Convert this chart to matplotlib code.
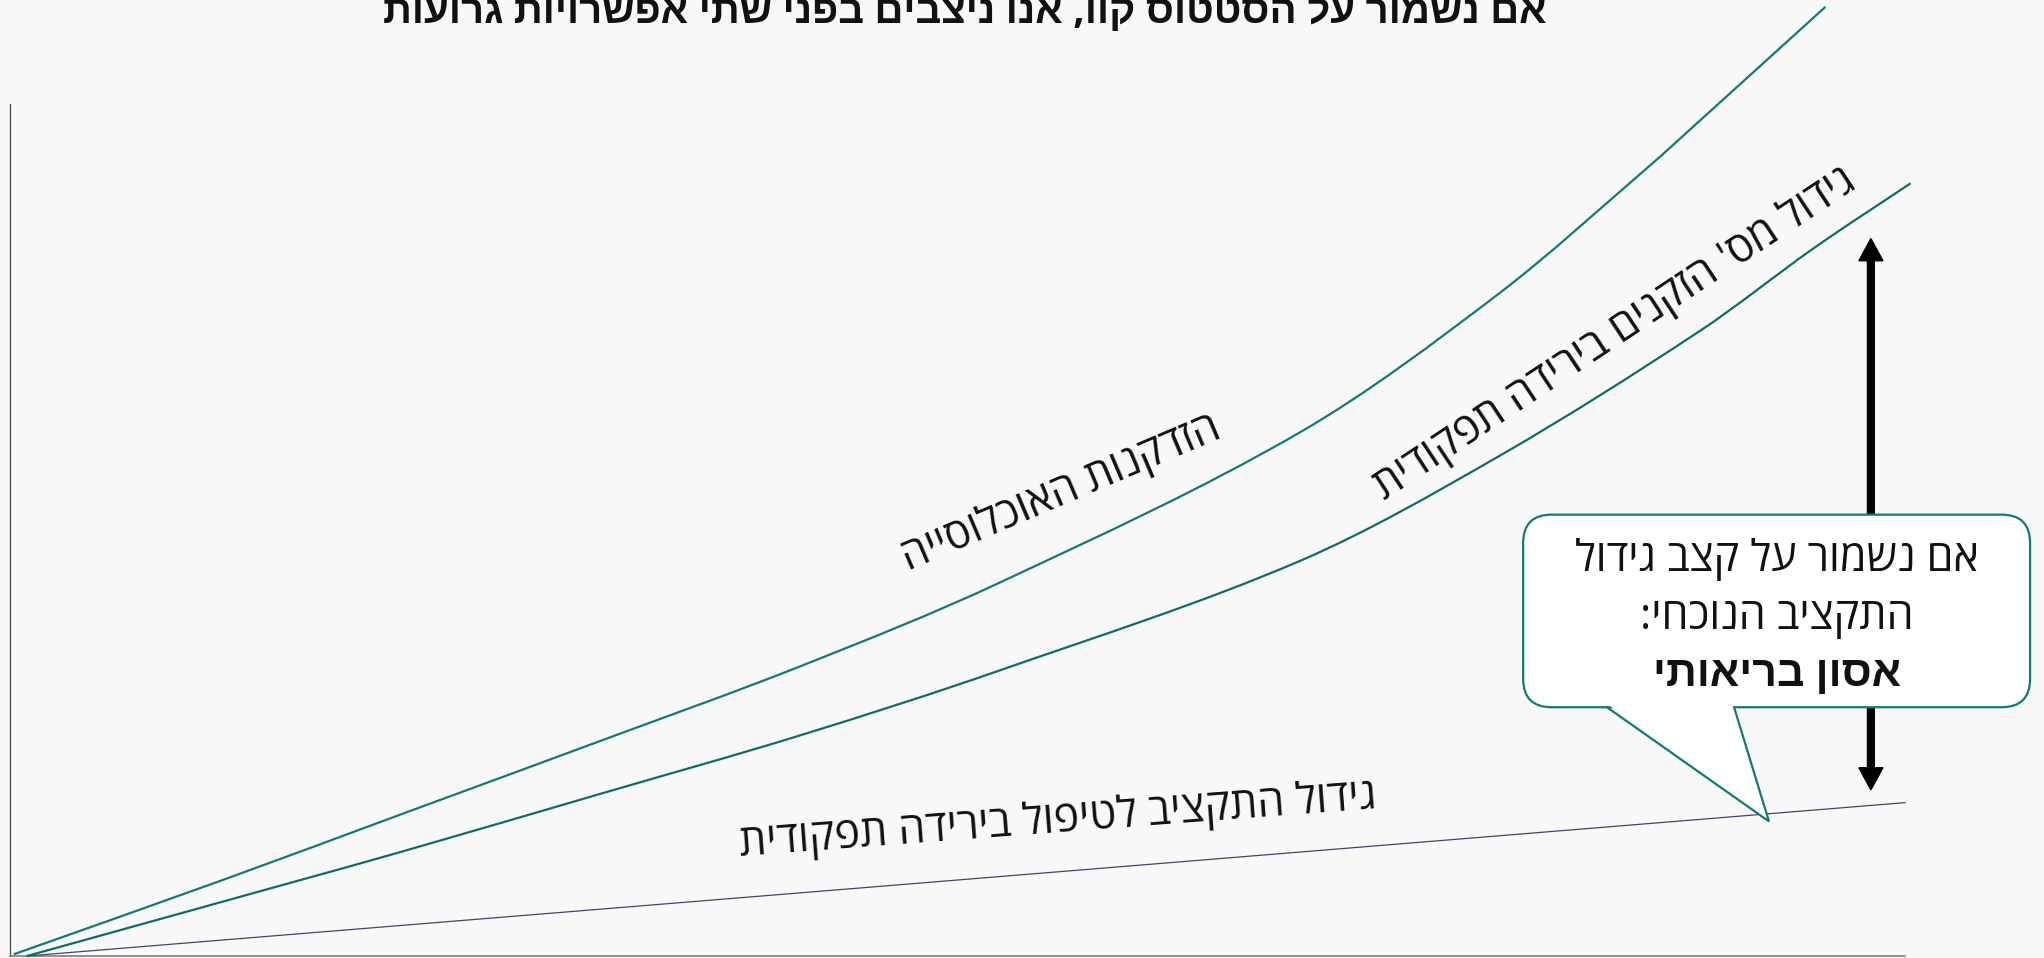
import matplotlib
matplotlib.use("Agg")
import matplotlib.pyplot as plt
from matplotlib.patches import FancyBboxPatch, Polygon, PathPatch
from matplotlib.path import Path

# ---- data (arbitrary index units) ----
aging_x = [0.2, 11.2, 20.6, 31.1, 41.7, 52.2, 68.1, 78.6, 86.5, 89.2, 95.8]
aging_y = [0.2, 8.9, 16.6, 25.2, 34.0, 43.8, 61.5, 77.8, 92.7, 98.1, 111.4]

decline_x = [0.9, 15.3, 20.6, 31.1, 41.7, 52.2, 68.1, 78.6, 89.2, 95.2, 100.3]
decline_y = [0.0, 8.9, 12.2, 19.0, 25.9, 33.5, 46.4, 58.7, 73.4, 83.1, 90.7]

budget_x = [0.9, 100.0]
budget_y = [0.0, 18.0]

title = "אם נשמור על הסטטוס קוו, אנו ניצבים בפני שתי אפשרויות גרועות"
label_aging = "הזדקנות האוכלוסייה"
label_decline = "גידול מס' הזקנים בירידה תפקודית"
label_budget = "גידול התקציב לטיפול בירידה תפקודית"
callout_lines = ["אם נשמור על קצב גידול", "התקציב הנוכחי:", "אסון בריאותי"]


def rtl(s):
    return s[::-1]


def smooth_path(xs, ys):
    """Smooth (cubic Hermite) rendering of a polyline through the points."""
    n = len(xs)
    m = []
    for i in range(n):
        a = max(i - 1, 0)
        b = min(i + 1, n - 1)
        m.append((ys[b] - ys[a]) / (xs[b] - xs[a]))
    verts = [(xs[0], ys[0])]
    codes = [Path.MOVETO]
    for i in range(n - 1):
        h = xs[i + 1] - xs[i]
        c1 = (xs[i] + h / 3, ys[i] + m[i] * h / 3)
        c2 = (xs[i + 1] - h / 3, ys[i + 1] - m[i + 1] * h / 3)
        verts += [c1, c2, (xs[i + 1], ys[i + 1])]
        codes += [Path.CURVE4] * 3
    return Path(verts, codes)


FONT = ["Open Sans", "Liberation Sans", "DejaVu Sans"]
plt.rcParams["font.family"] = FONT

BG = "#f8f8f8"
TEAL = "#127a76"
TEAL_D = "#0e6c69"
SLATE = "#3d4a66"
TXT = "#111111"

W, H = 2044, 958
fig = plt.figure(figsize=(W / 100, H / 100), dpi=100, facecolor=BG)
ax = fig.add_axes([10 / W, 2 / H, 1895 / W, 852 / H])
ax.set_facecolor(BG)
ax.set_xlim(0, 100)
ax.set_ylim(0, 100)
for s in ("top", "right"):
    ax.spines[s].set_visible(False)
ax.spines["left"].set_color("#444444")
ax.spines["left"].set_linewidth(0.9)
ax.spines["bottom"].set_color("#888888")
ax.spines["bottom"].set_linewidth(1.3)
ax.set_xticks([])
ax.set_yticks([])

ax.add_patch(PathPatch(smooth_path(aging_x, aging_y), fill=False, ec=TEAL,
                       lw=1.6, clip_on=False, zorder=3))
ax.add_patch(PathPatch(smooth_path(decline_x, decline_y), fill=False,
                       ec=TEAL_D, lw=1.6, clip_on=False, zorder=3))
ax.plot(budget_x, budget_y, color=SLATE, lw=0.9, clip_on=False, zorder=3)

# curve labels
ax.text(55.5, 54.3, rtl(label_aging), rotation=23, ha="center", va="center",
        fontsize=31, color=TXT, rotation_mode="anchor")
ax.text(84.7, 73.0, rtl(label_decline), rotation=33.5, ha="center", va="center",
        fontsize=31, color=TXT, rotation_mode="anchor")
ax.text(55.3, 15.9, rtl(label_budget), rotation=4.3, ha="center", va="center",
        fontsize=31, color=TXT, rotation_mode="anchor")

# double-headed arrow
ax_x = 98.2
y_top, y_bot = 84.2, 19.5
y_mid = (y_top + y_bot) / 2
for y_end in (y_top, y_bot):
    ax.arrow(ax_x, y_mid, 0, y_end - y_mid, width=0.36, head_width=1.27,
             head_length=2.6, length_includes_head=True, color="black",
             clip_on=False, zorder=4)

# callout
bx0, bx1 = 79.85, 106.6
by0, by1 = 29.2, 51.8
asp = (1 / 8.52) / (1 / 18.95)
box = FancyBboxPatch((bx0, by0), bx1 - bx0, by1 - by0,
                     boxstyle="round,pad=0,rounding_size=1.5",
                     mutation_aspect=asp, fc="white", ec=TEAL, lw=1.6,
                     clip_on=False, zorder=5)
ax.add_patch(box)
p1 = (84.27, by0)
p2 = (90.98, by0)
tip = (92.82, 15.8)
tri = Polygon([(p1[0], by0 + 0.4), tip, (p2[0], by0 + 0.4)], closed=True,
              fc="white", ec="none", clip_on=False, zorder=6)
ax.add_patch(tri)
ax.plot([p1[0], tip[0], p2[0]], [p1[1], tip[1], p2[1]], color=TEAL, lw=1.6,
        clip_on=False, zorder=7, solid_joinstyle="miter")

cx = (bx0 + bx1) / 2
ax.text(cx, 46.5, rtl(callout_lines[0]), ha="center", va="center", fontsize=31,
        color=TXT, zorder=8, clip_on=False)
ax.text(cx, 39.7, rtl(callout_lines[1]), ha="center", va="center", fontsize=31,
        color=TXT, zorder=8, clip_on=False)
ax.text(cx, 33.0, rtl(callout_lines[2]), ha="center", va="center", fontsize=31,
        fontweight="bold", color=TXT, zorder=8, clip_on=False)

# title (cut at the top as in the reference)
fig.text(965 / W, 1 - 23 / H, rtl(title), ha="center", va="baseline",
         fontsize=29, fontweight="bold", color=TXT)

fig.savefig("out.png", dpi=100, facecolor=BG)
